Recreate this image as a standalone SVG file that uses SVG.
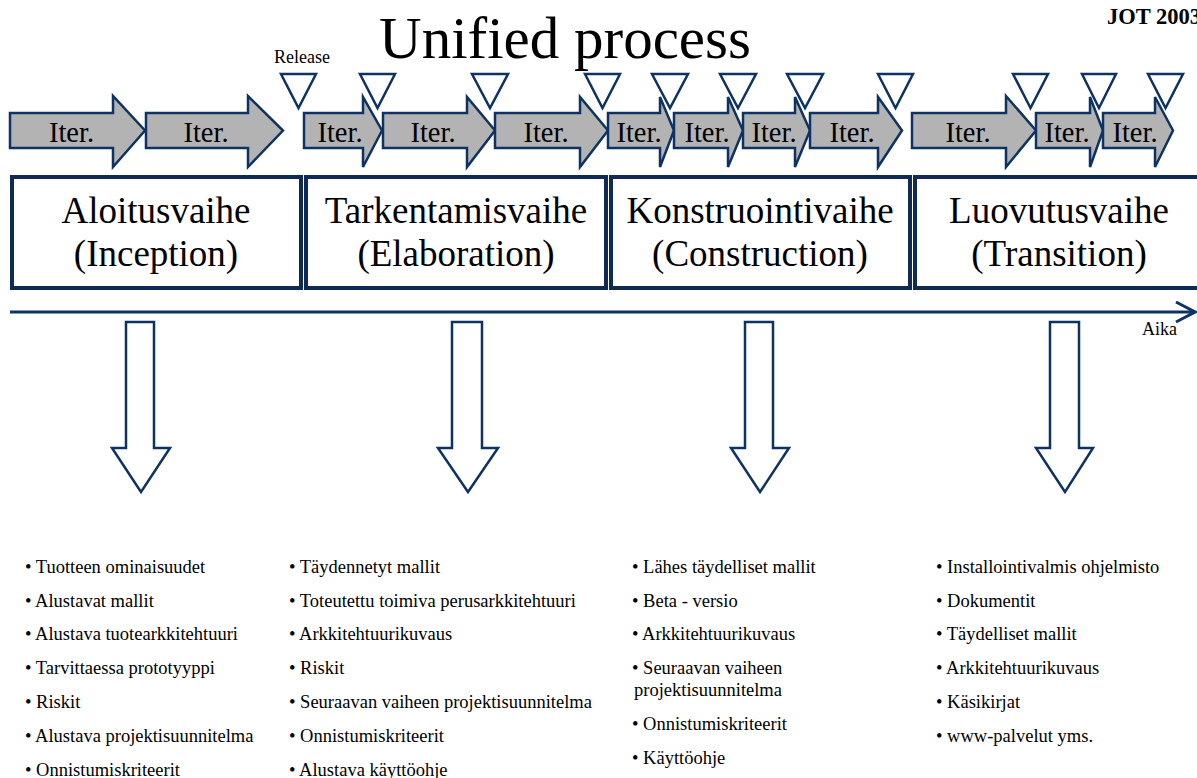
<svg xmlns="http://www.w3.org/2000/svg" width="1197" height="778" viewBox="0 0 1197 778">
<style>
.it{fill:#b3b3b3;stroke:#0e3263;stroke-width:2.5;stroke-linejoin:miter}
.tri{fill:#fff;stroke:#0e3263;stroke-width:2.5}
.ph{fill:#fff;stroke:#0e2a55;stroke-width:4}
.dn{fill:#fff;stroke:#0e3263;stroke-width:2.5}
.t{font-family:"Liberation Serif","Times New Roman",serif;fill:#000}
.iter{font-size:28.5px;text-anchor:middle}
.phase{font-size:37px;text-anchor:middle}
.li{font-size:18.5px}
</style>
<rect width="1197" height="778" fill="#fff"/>
<text class="t" x="565" y="58" font-size="59" text-anchor="middle">Unified process</text>
<text class="t" x="1107" y="24" font-size="22.5" font-weight="bold">JOT 2003</text>
<text class="t" x="274" y="63" font-size="18">Release</text>

<g id="iterations">
<g id="iter1"><path class="it" d="M10,113H113V96L145,130.5L113,167V148H10Z"/><text class="t iter" x="71.5" y="142">Iter.</text></g>
<g id="iter2"><path class="it" d="M146,113H248V96L283,130.5L248,167V148H146Z"/><text class="t iter" x="206" y="142">Iter.</text></g>
<g id="iter3"><path class="it" d="M304,113H363V97L382,130.5L363,167V148H304Z"/><text class="t iter" x="340" y="142">Iter.</text></g>
<g id="iter4"><path class="it" d="M383,113H467V97L495,130.5L467,167V148H383Z"/><text class="t iter" x="433" y="142">Iter.</text></g>
<g id="iter5"><path class="it" d="M495,113H580V97L608,130.5L580,167V148H495Z"/><text class="t iter" x="546" y="142">Iter.</text></g>
<g id="iter6"><path class="it" d="M608,113H660V97L674,130.5L660,167V148H608Z"/><text class="t iter" x="639" y="142">Iter.</text></g>
<g id="iter7"><path class="it" d="M674,113H728V97L743,130.5L728,167V148H674Z"/><text class="t iter" x="707" y="142">Iter.</text></g>
<g id="iter8"><path class="it" d="M743,113H795V97L810,130.5L795,167V148H743Z"/><text class="t iter" x="774" y="142">Iter.</text></g>
<g id="iter9"><path class="it" d="M810,113H878V97L902,130.5L878,167V148H810Z"/><text class="t iter" x="852" y="142">Iter.</text></g>
<g id="iter10"><path class="it" d="M912,113H1006V96L1036,130.5L1006,167V148H912Z"/><text class="t iter" x="968" y="142">Iter.</text></g>
<g id="iter11"><path class="it" d="M1036,113H1090V97L1103,130.5L1090,167V148H1036Z"/><text class="t iter" x="1067" y="142">Iter.</text></g>
<g id="iter12"><path class="it" d="M1103,113H1155V97L1173,130.5L1155,167V148H1103Z"/><text class="t iter" x="1135" y="142">Iter.</text></g>
</g>

<g id="releases">
<path class="tri" d="M281,74H316L298.5,108Z"/>
<path class="tri" d="M360,74H395L377.5,108Z"/>
<path class="tri" d="M472,74H508L490,108Z"/>
<path class="tri" d="M585,74H620L602.5,108Z"/>
<path class="tri" d="M652,74H688L670,108Z"/>
<path class="tri" d="M720,74H756L738,108Z"/>
<path class="tri" d="M787,74H823L805,108Z"/>
<path class="tri" d="M878,74H913L895.5,108Z"/>
<path class="tri" d="M1013,74H1048L1030.5,108Z"/>
<path class="tri" d="M1082,74H1116L1099,108Z"/>
<path class="tri" d="M1148,74H1183L1165.5,108Z"/>
</g>

<g id="phase-inception">
<rect class="ph" x="12" y="177" width="289" height="111"/>
<text class="t phase" x="156" y="223">Aloitusvaihe</text>
<text class="t phase" x="156" y="266">(Inception)</text>
</g>
<g id="phase-elaboration">
<rect class="ph" x="306" y="177" width="300" height="111"/>
<text class="t phase" x="456" y="223">Tarkentamisvaihe</text>
<text class="t phase" x="456" y="266">(Elaboration)</text>
</g>
<g id="phase-construction">
<rect class="ph" x="611" y="177" width="299" height="111"/>
<text class="t phase" x="760" y="223">Konstruointivaihe</text>
<text class="t phase" x="760" y="266">(Construction)</text>
</g>
<g id="phase-transition">
<rect class="ph" x="915" y="177" width="290" height="111"/>
<text class="t phase" x="1059" y="223">Luovutusvaihe</text>
<text class="t phase" x="1059" y="266">(Transition)</text>
</g>

<g id="connectors">
<path d="M10,312H1194" fill="none" stroke="#0e3263" stroke-width="3"/>
<path d="M1176,302L1195,312L1176,322" fill="none" stroke="#0e3263" stroke-width="3"/>
<path class="dn" d="M126,322H154V448H170L141,492L112,448H126Z"/>
<path class="dn" d="M452,322H482V448H498L468,492L438,448H452Z"/>
<path class="dn" d="M745,322H773V448H789L760,492L731,448H745Z"/>
<path class="dn" d="M1050,322H1079V448H1093L1065,492L1036,448H1050Z"/>
</g>
<text class="t" x="1142" y="335" font-size="18">Aika</text>

<g id="list-inception" class="t li">
<text x="25" y="573">• Tuotteen ominaisuudet</text>
<text x="25" y="607">• Alustavat mallit</text>
<text x="25" y="640">• Alustava tuotearkkitehtuuri</text>
<text x="25" y="674">• Tarvittaessa prototyyppi</text>
<text x="25" y="708">• Riskit</text>
<text x="25" y="742">• Alustava projektisuunnitelma</text>
<text x="25" y="776">• Onnistumiskriteerit</text>
</g>
<g id="list-elaboration" class="t li">
<text x="289" y="573">• Täydennetyt mallit</text>
<text x="289" y="607">• Toteutettu toimiva perusarkkitehtuuri</text>
<text x="289" y="640">• Arkkitehtuurikuvaus</text>
<text x="289" y="674">• Riskit</text>
<text x="289" y="708">• Seuraavan vaiheen projektisuunnitelma</text>
<text x="289" y="742">• Onnistumiskriteerit</text>
<text x="289" y="776">• Alustava käyttöohje</text>
</g>
<g id="list-construction" class="t li">
<text x="632" y="573">• Lähes täydelliset mallit</text>
<text x="632" y="607">• Beta - versio</text>
<text x="632" y="640">• Arkkitehtuurikuvaus</text>
<text x="632" y="674">• Seuraavan vaiheen</text>
<text x="634" y="696">projektisuunnitelma</text>
<text x="632" y="730">• Onnistumiskriteerit</text>
<text x="632" y="764">• Käyttöohje</text>
</g>
<g id="list-transition" class="t li">
<text x="936" y="573">• Installointivalmis ohjelmisto</text>
<text x="936" y="607">• Dokumentit</text>
<text x="936" y="640">• Täydelliset mallit</text>
<text x="936" y="674">• Arkkitehtuurikuvaus</text>
<text x="936" y="708">• Käsikirjat</text>
<text x="936" y="742">• www-palvelut yms.</text>
</g>
</svg>
